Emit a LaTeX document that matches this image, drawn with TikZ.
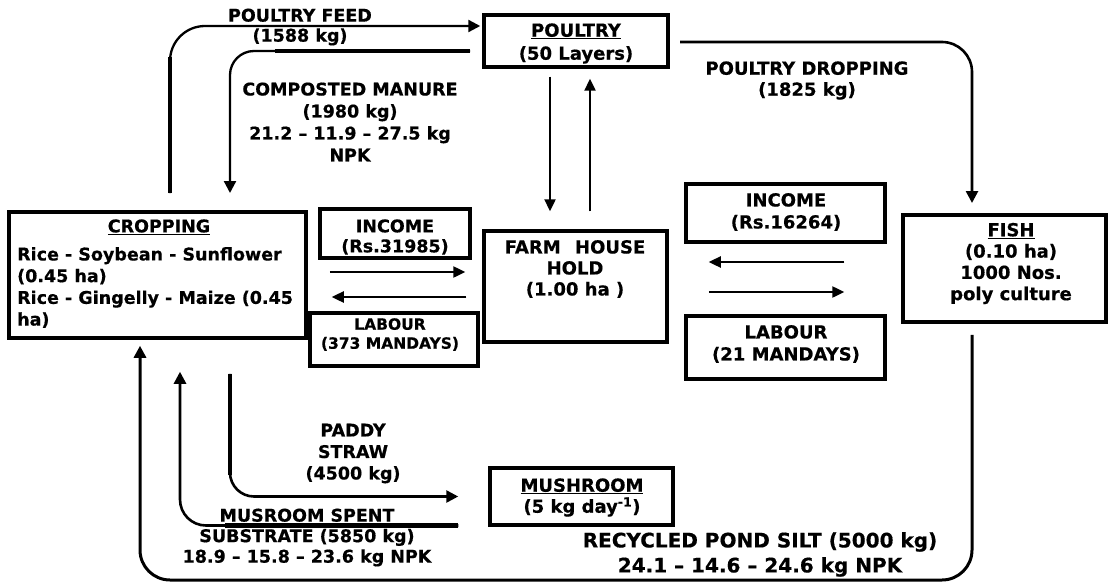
\documentclass[tikz,border=0pt]{standalone}
\usepackage{fontspec}
\setmainfont{DejaVu Sans}[BoldFeatures={FakeBold=0.5}]
\usetikzlibrary{arrows.meta}
\begin{document}
\begin{tikzpicture}[x=1pt,y=-1pt,
  box/.style={draw, line width=3.5pt, inner sep=0pt, rectangle},
  flow/.style={line width=2.6pt, -{Triangle[length=12pt,width=12pt]}},
  thin flow/.style={line width=2.4pt, -{Triangle[length=12pt,width=11pt]}},
  heavy/.style={line width=4.4pt},
  vtxt/.style={font=\bfseries\fontsize{17.5}{21}\selectfont, inner sep=0pt, align=center},
  ttxt/.style={font=\bfseries\fontsize{18}{21}\selectfont, inner sep=0pt, align=center},
]
\useasboundingbox (0,0) rectangle (1110,583);

% ---------- boxes ----------
\node[box, minimum width=184pt, minimum height=52pt]  (poultry)  at (576,41) {};
\node[box, minimum width=297pt, minimum height=126pt] (cropping) at (157.5,275) {};
\node[box, minimum width=150pt, minimum height=49pt]  (incomeL)  at (395,233.5) {};
\node[box, minimum width=168pt, minimum height=53pt]  (labourL)  at (394,339.5) {};
\node[box, minimum width=183pt, minimum height=111pt] (farm)     at (575.5,286.5) {};
\node[box, minimum width=199pt, minimum height=58pt]  (incomeR)  at (785.5,213) {};
\node[box, minimum width=199pt, minimum height=63pt]  (labourR)  at (785.5,347.5) {};
\node[box, minimum width=203pt, minimum height=107pt] (fish)     at (1004.5,268.5) {};
\node[box, minimum width=183pt, minimum height=57pt]  (mushroom) at (581.5,496.5) {};

% ---------- box texts ----------
\node[ttxt, font=\bfseries\fontsize{18}{23}\selectfont] (poultryT) at (576,43.5) {\underline{POULTRY}\\(50 Layers)};
\node[vtxt] (cropT) at (159,227) {\underline{CROPPING}};
\node[vtxt, font=\bfseries\fontsize{17.5}{21.7}\selectfont, align=left, anchor=west] (cropL) at (17,287.5)
  {Rice - Soybean - Sunflower\\(0.45 ha)\\Rice - Gingelly - Maize (0.45\\ha)};
\node[vtxt, font=\bfseries\fontsize{17.5}{20}\selectfont] (incomeLT) at (395,237) {INCOME\\(Rs.31985)};
\node[vtxt, font=\bfseries\fontsize{15.5}{19}\selectfont] (labourLT) at (390,334.5) {LABOUR\\(373 MANDAYS)};
\node[ttxt] (farmT) at (575,269) {FARM\hspace{0.8em}HOUSE\\HOLD\\(1.00 ha )};
\node[ttxt, font=\bfseries\fontsize{18}{22}\selectfont] (incomeRT) at (786,212) {INCOME\\(Rs.16264)};
\node[ttxt, font=\bfseries\fontsize{18}{22}\selectfont] (labourRT) at (786,344) {LABOUR\\(21 MANDAYS)};
\node[ttxt, font=\bfseries\fontsize{18}{21.3}\selectfont] (fishT) at (1011,263.5) {\underline{FISH}\\(0.10 ha)\\1000 Nos.\\poly culture};
\node[ttxt] (mushT) at (582,497.5) {\underline{MUSHROOM}\\(5 kg day\textsuperscript{-1})};

% ---------- flow labels ----------
\node[vtxt, font=\bfseries\fontsize{17.5}{20}\selectfont] (feedT) at (300,27) {POULTRY FEED\\(1588 kg)};
\node[vtxt, font=\bfseries\fontsize{17.5}{22}\selectfont] (manureT) at (350,122)
  {COMPOSTED MANURE\\(1980 kg)\\21.2 – 11.9 – 27.5 kg\\NPK};
\node[ttxt] (dropT) at (807,80.5) {POULTRY DROPPING\\(1825 kg)};
\node[vtxt, font=\bfseries\fontsize{17.5}{21.5}\selectfont] (paddyT) at (353,453.5) {PADDY\\STRAW\\(4500 kg)};
\node[vtxt, font=\bfseries\fontsize{17.5}{20.5}\selectfont] (spentT) at (307,537.5)
  {MUSROOM SPENT\\SUBSTRATE (5850 kg)\\18.9 – 15.8 – 23.6 kg NPK};
\node[ttxt, font=\bfseries\fontsize{20}{25}\selectfont] (siltT) at (760,554.5)
  {RECYCLED POND SILT (5000 kg)\\24.1 – 14.6 – 24.6 kg NPK};

% ---------- connectors ----------
% poultry feed: cropping up to poultry
\coordinate (feedA) at (170,193);
\coordinate (feedK) at (170,57);
\draw[flow, line width=2.3pt, rounded corners=35pt, shorten >=2pt] (feedA) |- ([yshift=15pt]poultry.west);
\draw[heavy] (feedA) -- (feedK);

% composted manure: poultry down to cropping
\coordinate (manureA) at (470,51);
\coordinate (manureK) at (275,51);
\coordinate (manureB) at (230,193);
\draw[flow, line width=2.3pt, rounded corners=24pt] (manureA) -| (manureB);
\draw[heavy] (manureA) -- (manureK);

% poultry dropping: poultry to fish
\coordinate (dropA) at (680,42);
\coordinate (dropB) at (972,203);
\draw[flow, rounded corners=30pt] (dropA) -| (dropB);

% poultry <-> farm household
\draw[thin flow, shorten <=8pt, shorten >=18pt] ([xshift=-26pt]poultry.south) -- ([xshift=-26pt]poultry.south |- farm.north);
\draw[thin flow, shorten <=18pt, shorten >=10pt] ([xshift=14pt]poultry.south |- farm.north) -- ([xshift=14pt]poultry.south);

% cropping <-> farm household
\draw[thin flow, shorten <=22pt, shorten >=17pt] ([yshift=3pt]cropping.east) -- ([yshift=14.5pt]farm.west);
\draw[thin flow, shorten <=16pt, shorten >=24pt] ([yshift=-10.5pt]farm.west) -- ([yshift=-22pt]cropping.east);

% fish <-> farm household
\draw[thin flow, shorten <=57pt, shorten >=40pt] ([yshift=6.5pt]fish.west) -- ([yshift=24.5pt]farm.east);
\draw[thin flow, shorten <=40pt, shorten >=57pt] ([yshift=-5.5pt]farm.east) -- ([yshift=-23.5pt]fish.west);

% recycled pond silt: fish back to cropping
\coordinate (siltC) at (140,580);
\draw[flow, line width=3pt, rounded corners=30pt, shorten <=11pt, shorten >=6pt]
  ([xshift=-32.5pt]fish.south) |- (siltC) -- ([xshift=-17.5pt]cropping.south);

% paddy straw: cropping to mushroom
\coordinate (paddyK) at (230,475);
\draw[flow, rounded corners=24pt, shorten <=34pt, shorten >=30pt]
  ([xshift=72.5pt]cropping.south) |- (mushroom.west);
\draw[heavy, shorten <=34pt] ([xshift=72.5pt]cropping.south) -- (paddyK);

% spent substrate: mushroom back to cropping
\coordinate (spentK) at (225,525.5);
\draw[flow, rounded corners=26pt, shorten <=30pt, shorten >=32pt]
  ([yshift=-29pt]mushroom.west) -| ([xshift=22.5pt]cropping.south);
\draw[heavy, shorten <=30pt] ([yshift=-29pt]mushroom.west) -- (spentK);
\end{tikzpicture}
\end{document}
